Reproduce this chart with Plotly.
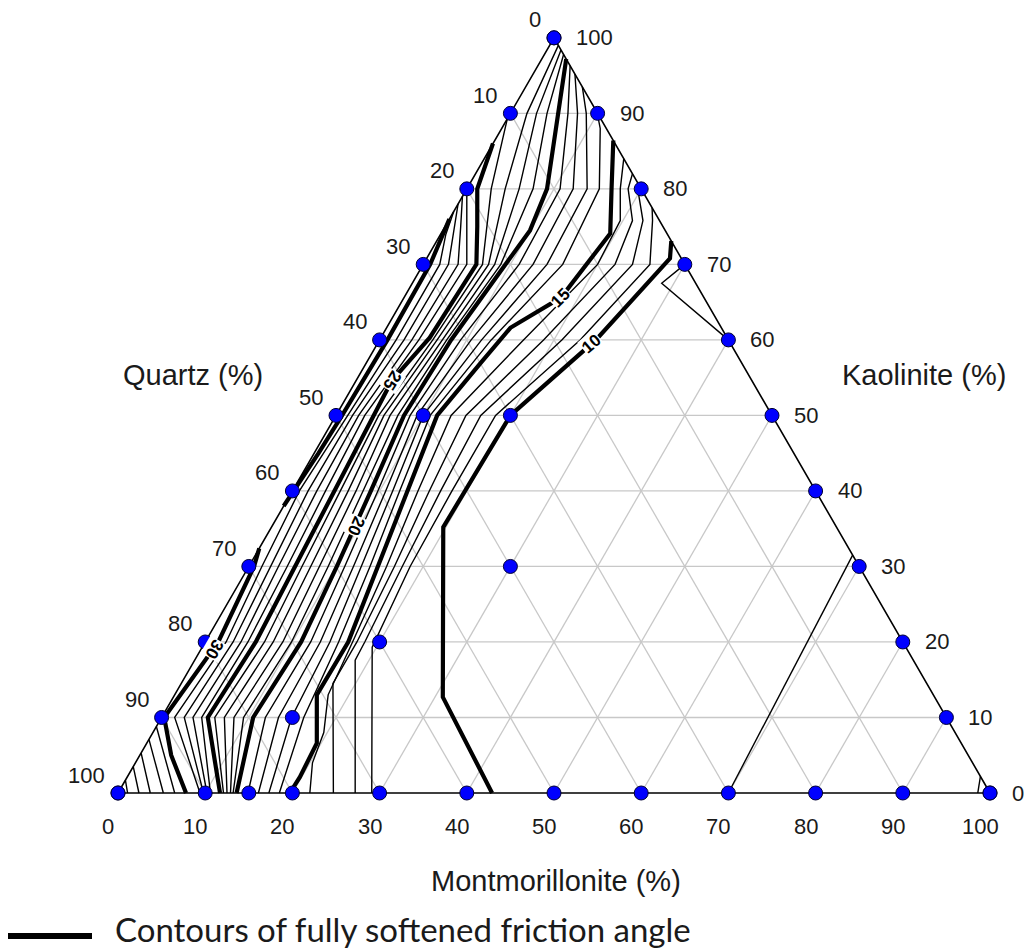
import math
import plotly.graph_objects as go

# ---------------- data (ternary compositions in %) ----------------
# Every contour vertex is (Kaolinite K, Montmorillonite M); Quartz = 100 - K - M
tick_values = [0, 10, 20, 30, 40, 50, 60, 70, 80, 90, 100]
bottom_dot_M = [0, 10, 15, 20, 30, 40, 50, 60, 70, 80, 90, 100]
interior_K = [50, 50, 30, 20, 10]
interior_M = [10, 20, 30, 20, 15]

# contours of fully softened friction angle (degrees)
lvl10 = [(0, 42.9), (10, 33.4), (12.7, 30.9), (35.2, 19.7), (50, 20.0), (60, 24.8), (70.8, 27.9), (73.1, 26.9)]
lvl11 = [(0, 29.1), (10, 24.1), (19.3, 19.5), (30, 18.5), (40, 18.3), (50, 18.3), (60, 23.0), (70, 26.0), (75.8, 23.4), (77.5, 22.5)]
lvl12 = [(0, 27.2), (10, 22.2), (17.6, 18.4), (20, 18.3), (30, 17.6), (40, 17.0), (50, 16.6), (60, 20.9), (70, 24.0), (75.8, 22.3), (80, 19.6), (80.5, 19.5)]
lvl13 = [(0, 24.7), (10, 19.7), (14.5, 17.4), (20, 17.4), (30, 16.7), (40, 15.7), (50, 14.9), (60, 18.8), (70, 22.0), (75.8, 21.1), (80, 18.5), (82, 18.0)]
lvl14 = [(0, 22.0), (4, 20.3), (8, 19.6), (13, 17.6), (20, 16.9), (30, 15.8), (40, 14.4), (50, 13.2), (60, 16.5), (70, 20.0), (75.8, 19.7), (80, 17.6), (84, 16.0)]
lvl15 = [(0, 19.7), (2.1, 19.8), (6.6, 19.5), (13, 16.3), (20, 16.4), (30, 14.8), (40, 13.1), (50, 11.6), (56.9, 13.1), (61.6, 14.2), (65.6, 18.0), (74.1, 19.4), (80, 16.6), (86.4, 13.6)]
lvl16 = [(0, 18.5), (10, 16.3), (20, 15.3), (30, 13.9), (40, 12.3), (50, 10.8), (60, 12.8), (70, 16.0), (80, 15.2), (88, 11.3), (90.1, 9.9)]
lvl17 = [(0, 17.3), (10, 14.9), (20, 14.3), (30, 12.9), (40, 11.5), (50, 10.0), (60, 11.7), (70, 14.2), (80, 13.8), (90, 8.7), (93.5, 6.5)]
lvl18 = [(0, 16.1), (10, 13.4), (20, 13.2), (30, 12.0), (40, 10.7), (50, 9.3), (60, 10.5), (70, 12.6), (80, 12.2), (90, 7.7), (95.2, 4.8)]
lvl19 = [(0, 14.9), (10, 11.9), (20, 12.1), (30, 11.0), (40, 9.8), (50, 8.5), (60, 9.3), (70, 11.0), (80, 10.7), (90, 6.6), (96.3, 3.7)]
lvl20 = [(0, 13.6), (10, 10.5), (20, 11.0), (30, 10.1), (40, 9.0), (50, 7.8), (60, 8.2), (70, 9.5), (74.5, 10.0), (80, 9.2), (90, 5.5), (97.2, 2.8)]
lvl21 = [(0, 13.2), (10, 9.4), (20, 9.9), (30, 9.1), (40, 8.1), (50, 7.1), (60, 7.7), (70, 8.9), (80, 7.6), (90, 4.2), (97.8, 2.2)]
lvl22 = [(0, 12.9), (10, 8.3), (20, 8.9), (30, 8.1), (40, 7.3), (50, 6.2), (60, 7.2), (70, 8.2), (80, 6.0), (90, 3.0), (98.4, 1.6)]
lvl23 = [(0, 12.5), (10, 7.2), (20, 7.8), (30, 7.1), (40, 6.4), (50, 5.5), (60, 6.6), (70, 7.5), (80, 4.4), (90, 1.9), (99.0, 1.0)]
lvl24 = [(0, 12.1), (10, 6.1), (20, 6.8), (30, 6.1), (40, 5.5), (50, 4.9), (60, 6.1), (70, 6.8), (80, 2.8), (86, 1.0), (89.3, 0)]
lvl25 = [(0, 11.7), (10, 5.3), (20, 5.8), (30, 5.3), (40, 4.7), (50, 4.3), (54.6, 4.1), (60.3, 5.6), (70, 6.1), (75, 3.7), (80, 1.2), (86, 0)]
lvl26 = [(0, 10.6), (10, 4.6), (20, 4.9), (30, 4.4), (40, 3.8), (50, 3.3), (60, 4.5), (70, 5.0), (75, 2.5), (80, 0)]
lvl27 = [(0, 10.2), (10, 3.6), (20, 4.1), (30, 3.4), (40, 2.8), (50, 2.6), (60, 3.7), (70, 4.0), (75, 1.8), (79, 0)]
lvl28 = [(0, 9.8), (10, 2.6), (20, 3.2), (30, 2.5), (40, 1.8), (50, 1.9), (60, 2.8), (70, 2.9), (75, 1.1), (78, 0)]
lvl29 = [(0, 9.4), (10, 1.5), (20, 2.4), (30, 1.5), (40, 0.8), (50, 1.3), (60, 1.9), (70, 1.9), (74, 0.6), (77, 0)]
lvl30a = [(0, 7.8), (5, 3.6), (10, 0.3), (20, 1.5), (30, 0.6), (32.4, 0)]
lvl30b = [(38, 0), (45, 0.5), (50, 0.7), (60, 0.9), (70, 0.8), (73, 0.4), (76, 0)]
# corner contours above 30 (edge K -> bottom M)
corner_edge_K = [8.8, 7.1, 5.3, 3.5, 1.7]
corner_bottom_M = [6.5, 5.2, 3.7, 2.4, 1.1]
# contours below 10 on the right
lvl9 = [(70, 30), (67.5, 28.6), (60, 40)]
lvl8 = [(0, 70), (31.5, 68.5)]
lvl7 = [(0, 98.6), (2.2, 97.8)]

thick_lines = [lvl10, lvl15, lvl20, lvl25, lvl30a, lvl30b]
thin_lines = [lvl11, lvl12, lvl13, lvl14, lvl16, lvl17, lvl18, lvl19, lvl21, lvl22, lvl23, lvl24,
              lvl26, lvl27, lvl28, lvl29, lvl9, lvl8, lvl7]
for ek, bm in zip(corner_edge_K, corner_bottom_M):
    thin_lines.append([(ek, 0), (0, bm)])

# contour labels: text, K, M, angle
labels = [("10", 59.5, 24.6, -40), ("15", 65.6, 18.0, -45),
          ("20", 35.4, 9.6, 114), ("25", 54.6, 4.1, 122), ("30", 19.0, 1.5, 120)]

# ------------------------------------------------------------------
S3 = math.sqrt(3) / 2


def xy(K, M):
    return M + K / 2, K * S3


def line_xy(pts):
    xs, ys = [], []
    for K, M in pts:
        x, y = xy(K, M)
        xs.append(x)
        ys.append(y)
    return xs, ys


def multi_xy(lines):
    xs, ys = [], []
    for pts in lines:
        a, b = line_xy(pts)
        xs += a + [None]
        ys += b + [None]
    return xs, ys


fig = go.Figure()
GRID = "#c8c8c8"

# grid lines
gx, gy = [], []
for v in range(10, 100, 10):
    for a, b in [((v, 0), (v, 100 - v)),          # constant K
                 ((0, v), (100 - v, v)),          # constant M
                 ((0, 100 - v), (100 - v, 0))]:   # constant Q
        x0, y0 = xy(*a)
        x1, y1 = xy(*b)
        gx += [x0, x1, None]
        gy += [y0, y1, None]
fig.add_trace(go.Scatter(x=gx, y=gy, mode="lines", line=dict(color=GRID, width=1.3),
                         hoverinfo="skip", showlegend=False))

# triangle outline
tx, ty = line_xy([(0, 0), (0, 100), (100, 0), (0, 0)])
fig.add_trace(go.Scatter(x=tx, y=ty, mode="lines", line=dict(color="black", width=1.6),
                         hoverinfo="skip", showlegend=False))

# contours
xs, ys = multi_xy(thin_lines)
fig.add_trace(go.Scatter(x=xs, y=ys, mode="lines", line=dict(color="black", width=1.4),
                         hoverinfo="skip", showlegend=False))
xs, ys = multi_xy(thick_lines)
fig.add_trace(go.Scatter(x=xs, y=ys, mode="lines", line=dict(color="black", width=4.2),
                         hoverinfo="skip", showlegend=False))

# sample dots
dK, dM = [], []
for v in tick_values:
    dK.append(100 - v); dM.append(0)          # left edge
    dK.append(v); dM.append(100 - v)          # right edge
for m in bottom_dot_M:
    dK.append(0); dM.append(m)
dK += interior_K
dM += interior_M
px, py = line_xy(list(zip(dK, dM)))
fig.add_trace(go.Scatter(x=px, y=py, mode="markers",
                         marker=dict(color="#0000ff", size=14, line=dict(color="#000033", width=1)),
                         hoverinfo="skip", showlegend=False))

TICKFONT = dict(family="Liberation Sans, Arial", size=22, color="#1a1a1a")
ann = []
for v in tick_values:
    x, y = xy(100 - v, 0)      # Quartz on left edge
    ann.append(dict(x=x, y=y, text=str(v), showarrow=False, xanchor="right", yanchor="middle",
                    xshift=-11, yshift=18, font=TICKFONT))
    x, y = xy(v, 100 - v)      # Kaolinite on right edge
    ann.append(dict(x=x, y=y, text=str(v), showarrow=False, xanchor="left", yanchor="middle",
                    xshift=20, yshift=0, font=TICKFONT))
    x, y = xy(0, v)            # Montmorillonite on bottom
    ann.append(dict(x=x, y=y, text=str(v), showarrow=False, xanchor="center", yanchor="middle",
                    xshift=-10, yshift=-33, font=TICKFONT))

TITLEFONT = dict(family="Liberation Sans, Arial", size=29, color="#1a1a1a")
x, y = xy(50, 0)
ann.append(dict(x=x, y=y, xshift=-143, yshift=40, text="Quartz (%)", showarrow=False, font=TITLEFONT))
x, y = xy(50, 50)
ann.append(dict(x=x, y=y, xshift=152, yshift=40, text="Kaolinite (%)", showarrow=False, font=TITLEFONT))
x, y = xy(0, 50)
ann.append(dict(x=x, y=y, xshift=2, yshift=-88, text="Montmorillonite (%)", showarrow=False,
                font=TITLEFONT))

LBL = dict(family="Liberation Sans, Arial", size=17, color="black")
for txt, K, M, ang in labels:
    x, y = xy(K, M)
    ann.append(dict(x=x, y=y, text="<b>%s</b>" % txt, showarrow=False, textangle=ang,
                    font=LBL, bgcolor="white", borderpad=0))

# legend
ann.append(dict(xref="paper", yref="paper", x=113 / 1029, y=1 - 929 / 949, xanchor="left",
                yanchor="middle", text="Contours of fully softened friction angle", showarrow=False,
                font=dict(family="Lato", size=33, color="#1a1a1a")))

fig.update_layout(
    width=1029, height=949, margin=dict(l=0, r=0, t=0, b=0),
    paper_bgcolor="white", plot_bgcolor="white",
    xaxis=dict(range=[-118 / 8.72, (1029 - 118) / 8.72], visible=False, fixedrange=True),
    yaxis=dict(range=[-(949 - 793) / 8.72, 793 / 8.72], visible=False, fixedrange=True),
    annotations=ann,
    shapes=[dict(type="line", xref="paper", yref="paper", x0=8 / 1029, x1=92 / 1029,
                 y0=1 - 936 / 949, y1=1 - 936 / 949, line=dict(color="black", width=6))],
)

fig.write_html("out.html")
